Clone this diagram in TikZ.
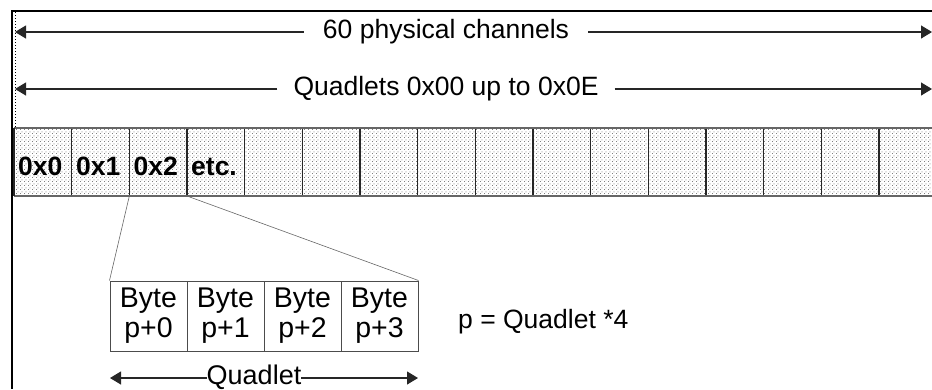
\documentclass[tikz,border=0pt]{standalone}
\usepackage{fontspec}
\setmainfont{Liberation Sans}
\usetikzlibrary{arrows.meta,patterns}
\pgfdeclarepatternformonly{mydots}{\pgfqpoint{0pt}{0pt}}{\pgfqpoint{4pt}{4pt}}{\pgfqpoint{4pt}{4pt}}{%
  \pgfpathrectangle{\pgfqpoint{0pt}{0pt}}{\pgfqpoint{1.1pt}{1.1pt}}%
  \pgfpathrectangle{\pgfqpoint{2pt}{2pt}}{\pgfqpoint{1.1pt}{1.1pt}}%
  \pgfusepath{fill}}
\begin{document}
\begin{tikzpicture}[x=1pt,y=-1pt,
  every node/.style={font=\fontsize{26.5}{30}\selectfont},
  arr/.style={-{Triangle[length=11pt,width=13pt]},line width=1.2pt,draw=black!85},
  cellbox/.style={draw=none,pattern=mydots,pattern color=black!50},
  rowline/.style={draw=black!60,line width=1.8pt},
  sepline/.style={draw=black!85,line width=1.2pt},
  celltext/.style={anchor=base west,inner sep=0pt,font=\fontsize{26.5}{30}\selectfont\bfseries},
  bytebox/.style={draw=black!70,line width=1pt,minimum width=77pt,minimum height=70pt,inner sep=0pt,align=center,font=\fontsize{28.5}{30}\selectfont},
  zoomline/.style={draw=black!60,line width=0.6pt}]
\useasboundingbox (0,0) rectangle (932,389);
% frame
\draw[line width=2pt] (12,11) -- (932,11);
\draw[line width=2.5pt] (12,10) -- (12,389);
\draw[line width=1pt,dotted] (15,12) -- (15,128);
% top arrows
\coordinate (a1l) at (15,32);
\coordinate (a1r) at (932,32);
\node[inner xsep=19pt,inner ysep=0pt] (t1) at (446,32) {60 physical channels};
\draw[arr] (t1.west) -- (a1l);
\draw[arr] (t1.east) -- (a1r);
\coordinate (a2l) at (15,89);
\coordinate (a2r) at (932,89);
\node[inner xsep=16pt,inner ysep=0pt] (t2) at (446,89) {Quadlets 0x00 up to 0x0E};
\draw[arr] (t2.west) -- (a2l);
\draw[arr] (t2.east) -- (a2r);
% row of cells
\fill[cellbox] (14,128) rectangle (932,196);
\foreach \i in {0,...,16} {
  \coordinate (c\i t) at ({14+57.67*\i},128);
  \coordinate (c\i b) at ({14+57.67*\i},196);
}
\foreach \i in {1,...,15} {
  \draw[sepline] (c\i t) -- (c\i b);
}
\draw[rowline] (14,128) -- (932,128);
\draw[rowline] (14,196) -- (932,196);
\draw[sepline] (c0t) -- (c0b);
\node[celltext] (q0) at (18,175) {0x0};
\node[celltext] (q1) at (76,175) {0x1};
\node[celltext] (q2) at (133.5,175) {0x2};
\node[celltext] (q3) at (191,175) {etc.};
% byte boxes
\node[bytebox] (b0) at (148.5,316) {Byte\\p+0};
\node[bytebox] (b1) at (225.5,316) {Byte\\p+1};
\node[bytebox] (b2) at (302.5,316) {Byte\\p+2};
\node[bytebox] (b3) at (379.5,316) {Byte\\p+3};
% zoom lines
\draw[zoomline] (c2b) -- (b0.north west);
\draw[zoomline] (c3b) -- (b3.north east);
% formula
\node[anchor=base west,inner sep=0pt] (f) at (458,328) {p = Quadlet *4};
% quadlet arrow
\node[anchor=base,inner sep=0pt,font=\fontsize{27}{30}\selectfont] (ql) at (254,384.5) {Quadlet};
\coordinate (qll) at (110,378);
\coordinate (qlr) at (418,378);
\draw[arr] (qll -| ql.west) -- (qll);
\draw[arr] (qlr -| ql.east) -- (qlr);
\end{tikzpicture}
\end{document}
